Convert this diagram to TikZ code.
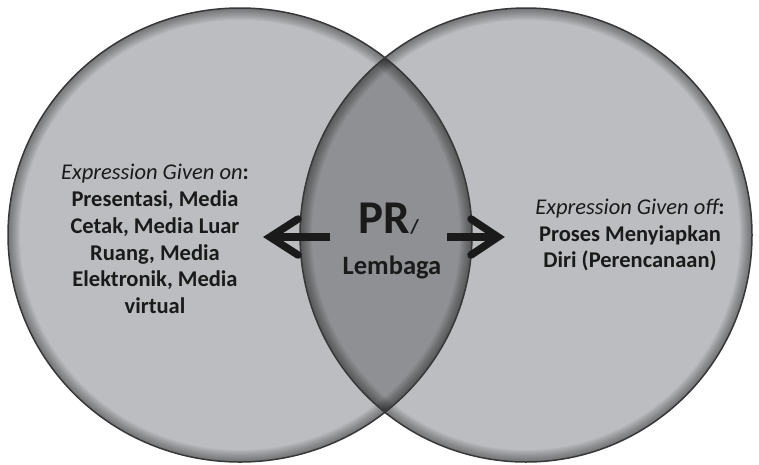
\documentclass[tikz,border=0pt]{standalone}
\usepackage{fontspec}
\setmainfont{Carlito}
\definecolor{venn}{HTML}{BCBDC0}
\definecolor{lens}{HTML}{8F9093}
\definecolor{rim}{HTML}{383838}
\definecolor{ink}{HTML}{1A1A1A}
\tikzset{
  rimshade/.style={draw=black},
  arrowshaft/.style={draw=ink, line width=7.5pt, line cap=butt},
  arrowhead/.style={draw=ink, line width=7.5pt, line cap=round, line join=miter},
  bodytext/.style={align=center, text=ink, font=\fontsize{22.5}{26.8}\selectfont\bfseries, inner sep=0pt},
}
\begin{document}
\begin{tikzpicture}[x=1pt,y=-1pt]
\useasboundingbox (0,0) rectangle (759,464);
\def\leftE{(240,235) ellipse [x radius=232, y radius=227]}
\def\rightE{(526,235) ellipse [x radius=226, y radius=227]}
% fills
\fill[venn] \leftE;
\fill[venn] \rightE;
\begin{scope}
  \clip \leftE;
  \fill[lens] \rightE;
\end{scope}
% rim shading inside each ellipse
\foreach \e in {\leftE,\rightE}{
  \begin{scope}
    \clip \e;
    \foreach \w in {2,4,...,24}{
      \draw[rimshade, line width=\w pt, opacity=0.035] \e;
    }
  \end{scope}
}
\draw[rim, line width=1.5pt] \leftE;
\draw[rim, line width=1.5pt] \rightE;
% texts
\node[bodytext] (ltext) at (155,239) {{\mdseries\itshape Expression Given on}:\\Presentasi, Media\\Cetak, Media Luar\\Ruang, Media\\Elektronik, Media\\virtual};
\node[bodytext] (rtext) at (630,235) {{\mdseries\itshape Expression Given off}:\\Proses Menyiapkan\\Diri (Perencanaan)};
\node[anchor=base, inner sep=0pt, text=ink, font=\fontsize{47}{50}\selectfont\bfseries] (pr) at (389,233) {PR{\fontsize{20}{24}\selectfont/}};
\node[anchor=base, inner sep=0pt, text=ink, font=\fontsize{26.5}{30}\selectfont\bfseries] (lembaga) at (392,274) {Lembaga};
% arrows
\coordinate (ltip) at (270,237);
\coordinate (ltail) at (330,237);
\coordinate (rtip) at (498,237);
\coordinate (rtail) at (447,237);
\draw[arrowshaft] (ltail) -- (ltip);
\draw[arrowhead] ([shift={(28,-18)}]ltip) -- (ltip) -- ([shift={(28,18)}]ltip);
\draw[arrowshaft] (rtail) -- (rtip);
\draw[arrowhead] ([shift={(-27,-18)}]rtip) -- (rtip) -- ([shift={(-27,18)}]rtip);
\end{tikzpicture}
\end{document}
